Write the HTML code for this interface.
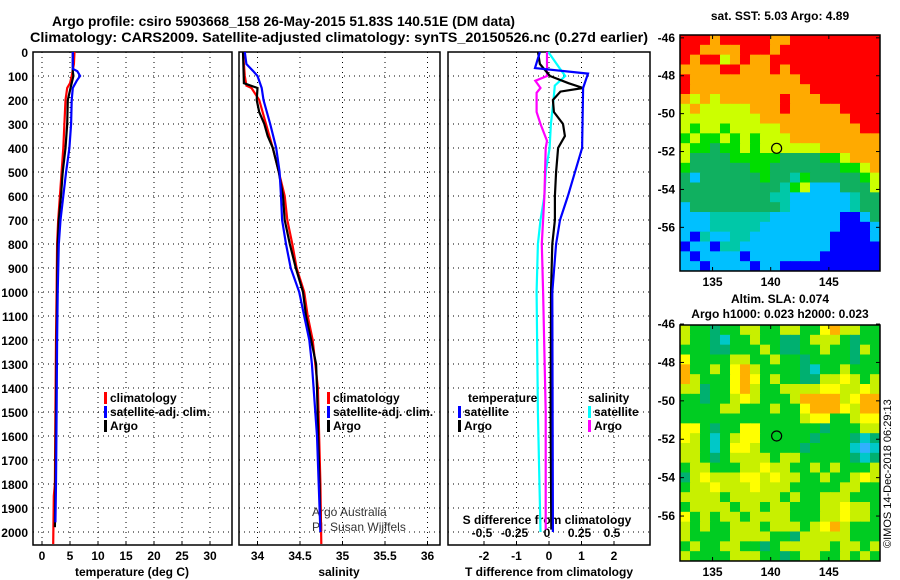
<!DOCTYPE html>
<html><head><meta charset="utf-8"><style>
body{margin:0;background:#fff;}
svg{display:block;font-family:"Liberation Sans",Arial,sans-serif;}
.b{font-weight:bold;font-size:12px;}
</style></head><body>
<svg id="s" width="900" height="580" xmlns="http://www.w3.org/2000/svg">
<text x="52" y="26" textLength="463" lengthAdjust="spacingAndGlyphs" font-size="14" font-weight="bold">Argo profile: csiro 5903668_158 26-May-2015 51.83S 140.51E (DM data)</text>
<text x="30" y="42" textLength="618" lengthAdjust="spacingAndGlyphs" font-size="14" font-weight="bold">Climatology: CARS2009. Satellite-adjusted climatology: synTS_20150526.nc (0.27d earlier)</text>
<text x="780" y="20" text-anchor="middle" class="b">sat. SST: 5.03 Argo: 4.89</text>
<text x="780" y="303" text-anchor="middle" class="b">Altim. SLA: 0.074</text>
<text x="780" y="318" text-anchor="middle" class="b">Argo h1000: 0.023 h2000: 0.023</text>
<text transform="translate(891,548) rotate(-90)" font-size="11">©IMOS 14-Dec-2018 06:29:13</text>
<text x="312" y="516" font-size="12" fill="#333">Argo Australia</text>
<text x="312" y="531" font-size="12" fill="#333">PI: Susan Wijffels</text>
</svg>
<script>
// ---- data ----
const depthTicks=[0,100,200,300,400,500,600,700,800,900,1000,1100,1200,1300,1400,1500,1600,1700,1800,1900,2000];
const tempTicks=[0,5,10,15,20,25,30];
const salTicks=[34,34.5,35,35.5,36];
const salTickLabels=["34","34.5","35","35.5","36"];
const tdTicks=[-2,-1,0,1,2];
const sdTicks=[-0.5,-0.25,0,0.25,0.5];
const sdTickLabels=["-0.5","-0.25","0","0.25","0.5"];

const tClimD=[0,50,100,130,150,200,300,400,500,600,700,800,1000,1200,1500,1800,1850,2050];
const tClimV=[5.8,5.7,5.3,5.0,4.5,4.2,4.0,3.8,3.5,3.2,2.9,2.7,2.6,2.5,2.4,2.3,2.1,2.0];
const tSatD=[0,70,80,100,120,150,200,300,400,500,600,700,800,1000,1200,1500,1800,1960];
const tSatV=[5.5,5.5,6.3,6.8,6.2,5.5,5.3,5.2,4.9,4.3,3.8,3.3,3.0,2.8,2.7,2.6,2.5,2.4];
const tArgoD=[0,80,100,140,200,300,400,500,600,700,800,1000,1200,1500,1800,1980];
const tArgoV=[5.5,5.5,5.6,5.2,4.6,4.5,4.2,3.7,3.4,3.0,2.8,2.7,2.6,2.5,2.4,2.3];

const sClimD=[0,100,140,150,200,300,400,500,600,700,800,900,1000,1100,1200,1400,1800,2050];
const sClimV=[33.83,33.85,33.87,33.93,34.02,34.1,34.18,34.25,34.32,34.35,34.41,34.46,34.55,34.59,34.65,34.71,34.74,34.75];
const sSatD=[0,50,80,100,150,200,300,400,500,600,700,800,900,1000,1100,1200,1300,1400,1600,1800,2000];
const sSatV=[33.85,33.87,33.95,34.0,34.05,34.07,34.15,34.22,34.26,34.276,34.29,34.335,34.39,34.49,34.55,34.61,34.64,34.66,34.7,34.72,34.74];
const sArgoD=[0,130,150,200,250,300,350,400,500,600,700,800,900,1000,1100,1200,1300,1400,1800,1990];
const sArgoV=[33.83,33.84,34.0,33.99,34.02,34.08,34.12,34.18,34.25,34.3,34.32,34.38,34.45,34.535,34.57,34.63,34.69,34.70,34.73,34.74];

const dTSatD=[0,67,90,150,400,500,600,700,800,1000,2000];
const dTSatV=[-0.28,-0.43,1.2,1.05,1.02,0.8,0.58,0.34,0.22,0.1,0.12];
const dTArgoD=[0,50,100,130,150,165,200,250,300,350,400,500,600,700,800,1000,1500,1990];
const dTArgoV=[-0.34,-0.28,0.03,0.6,1.05,0.35,0.12,0.15,0.43,0.49,0.28,0.22,0.18,0.18,0.1,0.06,0.05,0.07];
const dSSatD=[0,70,100,140,200,300,400,500,600,700,800,1000,1500,2000];
const dSSatV=[0.01,0.1,0.14,0.06,0.05,0.03,0.02,-0.01,-0.02,-0.05,-0.07,-0.08,-0.07,-0.05];
const dSArgoD=[0,100,120,150,170,250,300,370,400,600,800,1000,1500,1990];
const dSArgoV=[0,0,-0.09,-0.05,-0.08,-0.08,-0.05,0,-0.01,-0.02,-0.04,-0.03,-0.01,-0.01];

const sstRows=[
"RRRORRRRROORRRRRRRRR","RROOOORRRORRRRRRRRRR","RORRYOROORRRRRRRRRRR","OOOORROOORORRRRRRRRR",
"ROOOOOOOOOOORRRRRRRR","ROOOOOOOOOOOORRRRRRR","OYOYOOOOOOROOORRRRRR","YOYYYYYOOOROOOOORRRR",
"YYYYYYYYOOOOOOOOORRR","YGYYGYYYYYOOOOOOOORR","GYGGYGYGYYYOOOOOOOOO","YGGMGGYGYYYYYYOOOOOO",
"YMMMMGGGGGMMMMGGYOOO","GMMMMMMGGMMMMMMMGGYO","MCMMMMMMGMMTGMMMMMGY","MMMMMMMMMMTGYCCCMMMY",
"MMMMMMMMMTTCCCCCCTMM","CMMMMMMMMMTCCCCCCTMM","CCCTTTTTTCCCCCCCBBCM","CCCTTTTTCCCCCCCCBBBC",
"CBTCCTTCCCCCCCCBBBBC","BCCBTTCCCCCCCCCBBBBB","CBCCCCBCCCCCCCBBBBBB","CCBCCCCBCCBBBBBBBBBB"];
const slaRows=[
"LGGTGGLLGGLLGGYOLLGG","LGGTCGGLGGTTGLLLGTGG","GGGTTGGGLGTTGGLGGTLG","YGGGGLLGGLGGTGGGGTGG",
"OGGLGYOLGGGGTCGGLGGG","OLGGGYOYGLGGTTLLYLGL","LLTGGYOLGGLLLLYYLLYL","GGTGGLYLGGGLOOOOLYOO",
"GGGGLLGGGLGGYOOOYLOO","GGGGGGGGGGGGLYYGGLYY","YYGTGGYYGGGGGGTGGGLL","YLGCGLYYGGGGGTGGGTCT",
"LLGCGYYLGGGGTGGGGCBC","LLGTGLLLLGLLGGGGGTCT","GLLGGGLLYLLGGLGLGGGL","TLYLLLYYLYLLGGLGGLYL",
"GLLYLLLYLLLGGGGGLLGG","LLLLGLLLLLGLGGLLLGGG","GLLLLGLLGLLGGGLLYLLG","YGLGLLGLLLLGGGLLYLLG",
"LGLGGLLLGLLLGLYOLGGG","LGGGGLLLLGGTLLLLLGGG","GLGGLLGGTGLLLLLGLLGL","LGGGGLLLGGTGLLGGLGLG"];
const sstPal={R:"#ff0000",O:"#ffaa00",Y:"#ccff00",G:"#00dd00",M:"#10b060",T:"#00c8a8",C:"#00c0ff",B:"#0000ff"};
const slaPal={G:"#00cc22",L:"#c8f000",Y:"#ffff00",O:"#ffb000",T:"#00b070",C:"#00c8c8",B:"#30b0ff"};
const latTicks=[-46,-48,-50,-52,-54,-56];
const lonTicks=[135,140,145];
const argoLat=-51.83, argoLon=140.51;

// ---- drawing ----
const S=document.getElementById('s');
const NS="http://www.w3.org/2000/svg";
function mk(tag,attrs,parent){const e=document.createElementNS(NS,tag);for(const k in attrs)e.setAttribute(k,attrs[k]);(parent||S).appendChild(e);return e;}
const top0=52, pxPer100=24, bot=545;
const yD=d=>top0+d*pxPer100/100;
const panels=[
 {x0:33,x1:232,fx:v=>42+5.6*v,name:'temperature'},
 {x0:239,x1:440,fx:v=>257.5+85*(v-34),name:'salinity'},
 {x0:448,x1:650,fx:v=>549+32.5*v,name:'difference'}];
const sx=v=>547+130*v;

panels.forEach((p,i)=>{
  const g=mk('g',{});
  
  
  depthTicks.forEach(d=>{
    const y=yD(d);
    const l=mk('line',{x1:p.x0,x2:p.x1,y1:y,y2:y,stroke:'#000','stroke-width':1,'stroke-dasharray':'1,4'},g);
    
    
    if(i==0){const t=mk('text',{x:28,y:y+5,'text-anchor':'end','class':'b'},g);t.textContent=d;
      
      }
  });
  const ticks=i==0?tempTicks:i==1?salTicks:tdTicks;
  ticks.forEach((v,k)=>{
    const x=p.fx(v);
    const l=mk('line',{x1:x,x2:x,y1:top0,y2:bot,stroke:'#000','stroke-width':1,'stroke-dasharray':'1,4'},g);
    
    
    mk('line',{x1:x,x2:x,y1:bot,y2:bot-4,stroke:'#000'},g);
    const t=mk('text',{x:x,y:560,'text-anchor':'middle','class':'b'},g);
    t.textContent=i==1?salTickLabels[k]:v;
    
    
  });
  const r=mk('rect',{x:p.x0,y:top0,width:p.x1-p.x0,height:bot-top0,fill:'none',stroke:'#000','stroke-width':1.5},g);
  
  
});
sdTicks.forEach((v,k)=>{
  const t=mk('text',{x:sx(v),y:537,'text-anchor':'middle','class':'b'});
  t.textContent=sdTickLabels[k];
  
  
});
[['temperature (deg C)',132],['salinity',339],['T difference from climatology',549]].forEach(a=>{
  const t=mk('text',{x:a[1],y:576,'text-anchor':'middle','class':'b'});t.textContent=a[0];
  
  
});
const st=mk('text',{x:547,y:524,'text-anchor':'middle','class':'b'});st.textContent='S difference from climatology';



function line(D,V,fx,color,name){
  let pts='';D.forEach((d,k)=>{const x=fx(V[k]),y=yD(d);pts+=(k?' L':'M')+x.toFixed(1)+','+y.toFixed(1);});
  const e=mk('path',{d:pts,fill:'none',stroke:color,'stroke-width':2.2});
  
  
}
line(tClimD,tClimV,panels[0].fx,'#ff0000','temp-climatology-line');
line(tArgoD,tArgoV,panels[0].fx,'#000','temp-argo-line');
line(tSatD,tSatV,panels[0].fx,'#0000ff','temp-satellite-line');
line(sClimD,sClimV,panels[1].fx,'#ff0000','sal-climatology-line');
line(sArgoD,sArgoV,panels[1].fx,'#000','sal-argo-line');
line(sSatD,sSatV,panels[1].fx,'#0000ff','sal-satellite-line');
line(dSSatD,dSSatV,sx,'#00ffff','sdiff-satellite-line');
line(dSArgoD,dSArgoV,sx,'#ff00ff','sdiff-argo-line');
line(dTArgoD,dTArgoV,panels[2].fx,'#000','tdiff-argo-line');
line(dTSatD,dTSatV,panels[2].fx,'#0000ff','tdiff-satellite-line');

function leg(x,y,color,label,name){
  if(color)mk('rect',{x:x,y:y-10,width:3,height:12,fill:color});
  const t=mk('text',{x:x+6,y:y,'class':'b'});t.textContent=label;
  
  
}
leg(104,402,'#ff0000','climatology','legend-entry-climatology');
leg(104,416,'#0000ff','satellite-adj. clim.','legend-entry-satellite');
leg(104,430,'#000','Argo','legend-entry-argo');
leg(327,402,'#ff0000','climatology','legend-entry-climatology');
leg(327,416,'#0000ff','satellite-adj. clim.','legend-entry-satellite');
leg(327,430,'#000','Argo','legend-entry-argo');
leg(462,402,null,'temperature','legend-title-temperature');
leg(582,402,null,'salinity','legend-title-salinity');
leg(458,416,'#0000ff','satellite','legend-entry-t-satellite');
leg(458,430,'#000','Argo','legend-entry-t-argo');
leg(588,416,'#00ffff','satellite','legend-entry-s-satellite');
leg(588,430,'#ff00ff','Argo','legend-entry-s-argo');

function map(rows,pal,x0,y0,w,h,latTop,latPx,name){
  const g=mk('g',{});
  
  
  const cw=w/rows[0].length, ch=h/rows.length;
  rows.forEach((r,ri)=>{for(let c=0;c<r.length;c++){
    mk('rect',{x:x0+c*cw,y:y0+ri*ch,width:cw+0.5,height:ch+0.5,fill:pal[r[c]]},g);}});
  const lon2x=l=>x0+(l-132.2)*(w/17.2);
  const lat2y=l=>y0+(latTop-l)*latPx;
  mk('rect',{x:x0,y:y0,width:w,height:h,fill:'none',stroke:'#000','stroke-width':1.5},g);
  latTicks.forEach(l=>{const y=lat2y(l);
    mk('line',{x1:x0,x2:x0+4,y1:y,y2:y,stroke:'#000'},g);
    mk('line',{x1:x0+w,x2:x0+w-4,y1:y,y2:y,stroke:'#000'},g);
    const t=mk('text',{x:x0-5,y:y+4,'text-anchor':'end','class':'b'},g);t.textContent=l;
    
    });
  lonTicks.forEach(l=>{const x=lon2x(l);
    mk('line',{x1:x,x2:x,y1:y0,y2:y0+4,stroke:'#000'},g);
    mk('line',{x1:x,x2:x,y1:y0+h,y2:y0+h-4,stroke:'#000'},g);
    const t=mk('text',{x:x,y:y0+h+15,'text-anchor':'middle','class':'b'},g);t.textContent=l;
    
    });
  const c=mk('circle',{cx:lon2x(argoLon),cy:lat2y(argoLat),r:5,fill:'none',stroke:'#000','stroke-width':1.2},g);
  
  
}
map(sstRows,sstPal,680,35,200,236,-45.85,18.95,'sst-map');
map(slaRows,slaPal,680,325,200,236,-46.05,19.2,'sla-map');
</script>
</body></html>
